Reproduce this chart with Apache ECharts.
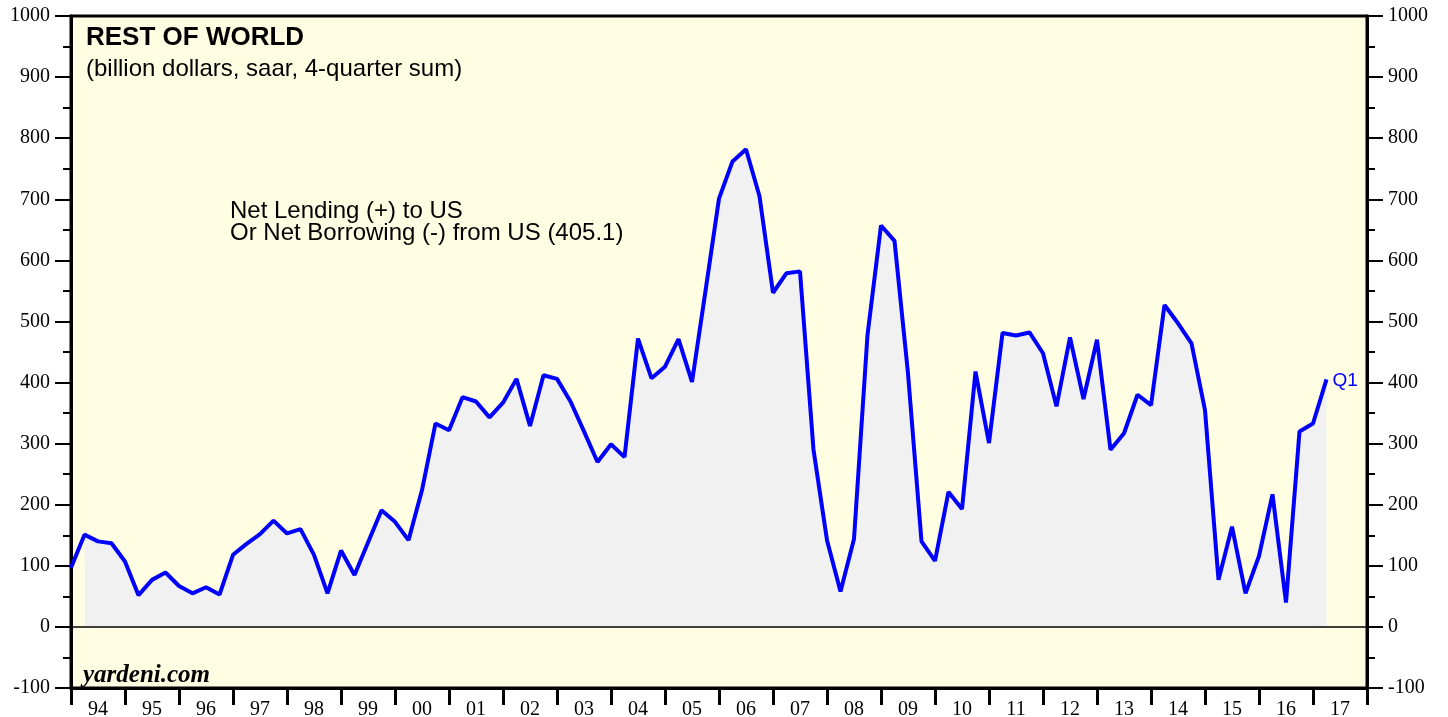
<!DOCTYPE html>
<html>
<head>
<meta charset="utf-8">
<title>Rest of World</title>
<script src="https://cdn.jsdelivr.net/npm/echarts@6/dist/echarts.min.js"></script>
<style>
  html, body { margin: 0; padding: 0; background: #ffffff; }
  #chart { width: 1448px; height: 717px; }
</style>
</head>
<body>
<div id="chart"></div>
<script>
// year labels on the bottom axis
const yearLabels = ['94', '95', '96', '97', '98', '99', '00', '01', '02', '03', '04', '05',
  '06', '07', '08', '09', '10', '11', '12', '13', '14', '15', '16', '17']

// quarterly values, 1993 Q4 .. 2017 Q1 (billion dollars)
const netLending = [
  97,
  151, 140, 137, 107,
  52, 77, 89, 67,
  55, 65, 53, 118,
  136, 152, 174, 153,
  160, 118, 55, 125,
  85, 138, 191, 172,
  142, 224, 333, 322,
  376, 369, 343, 367,
  406, 329, 412, 406,
  369, 320, 270, 299,
  278, 472, 407, 426,
  471, 401, 550, 701,
  762, 782, 705, 547,
  579, 582, 290, 142,
  58, 144, 478, 657,
  632, 415, 140, 108,
  221, 193, 418, 301,
  481, 477, 482, 448,
  361, 474, 373, 470,
  290, 317, 380, 363,
  527, 497, 464, 355,
  77, 164, 55, 116,
  217, 40, 320, 333,
  405.1,
]

// x in years since start of 1994, points sit at quarter end
let linePoints = netLending.map((v, i) => [i * 0.25, v])
let areaPoints = linePoints.slice(1) // shading starts at 94 Q1

const serif = '"Liberation Serif", "DejaVu Serif", serif'
const sans = '"Liberation Sans", Arial, sans-serif'

let yAxisBase = {
  type: 'value',
  min: -100,
  max: 1000,
  interval: 100,
  axisLine: { show: true, lineStyle: { color: '#000', width: 3 } },
  axisTick: { show: true, inside: false, length: 16, lineStyle: { color: '#000', width: 2 } },
  minorTick: { show: true, splitNumber: 2, length: 8, lineStyle: { color: '#000', width: 2 } },
  splitLine: { show: false },
  axisLabel: {
    fontFamily: serif,
    fontSize: 20,
    color: '#000',
    margin: 21,
    formatter: (v) => String(v), // no thousands separator
  },
}

let option = {
  animation: false,
  backgroundColor: '#ffffff',
  title: [
    {
      text: 'REST OF WORLD',
      left: 86,
      top: 25,
      padding: 0,
      textStyle: { fontFamily: sans, fontSize: 26, fontWeight: 'bold', color: '#000' },
    },
    {
      text: '(billion dollars, saar, 4-quarter sum)',
      left: 86,
      top: 57,
      padding: 0,
      textStyle: { fontFamily: sans, fontSize: 24, fontWeight: 'normal', color: '#000' },
    },
  ],
  graphic: [
    {
      type: 'text',
      left: 230,
      top: 199,
      style: {
        text: 'Net Lending (+) to US\nOr Net Borrowing (-) from US (405.1)',
        font: '24px ' + sans,
        lineHeight: 22,
        fill: '#000',
      },
    },
    {
      type: 'text',
      left: 83,
      top: 663,
      style: {
        text: 'yardeni.com',
        font: 'italic bold 25px ' + serif,
        fill: '#000',
      },
    },
  ],
  grid: {
    left: 71,
    right: 81,
    top: 16,
    bottom: 29,
    outerBoundsMode: 'none', // year labels run off the bottom edge like the original
    show: true,
    backgroundColor: '#fffee3',
    borderColor: '#000',
    borderWidth: 3,
  },
  xAxis: [
    {
      type: 'category',
      data: yearLabels,
      boundaryGap: true,
      position: 'bottom',
      axisLine: { show: true, onZero: false, lineStyle: { color: '#000', width: 3 } },
      axisTick: { show: true, inside: false, length: 17, interval: 0, lineStyle: { color: '#000', width: 3 } },
      axisLabel: { interval: 0, fontFamily: serif, fontSize: 20, color: '#000', margin: 12 },
      splitLine: { show: false },
    },
    {
      type: 'value',
      min: 0,
      max: 24,
      show: false,
    },
  ],
  yAxis: [
    Object.assign({}, yAxisBase, { position: 'left' }),
    Object.assign({}, yAxisBase, { position: 'right' }),
  ],
  series: [
    {
      name: 'shade',
      type: 'line',
      xAxisIndex: 1,
      yAxisIndex: 0,
      data: areaPoints,
      symbol: 'none',
      silent: true,
      lineStyle: { width: 0 },
      areaStyle: { color: '#f1f1f1', opacity: 1 },
      markLine: {
        silent: true,
        symbol: 'none',
        label: { show: false },
        lineStyle: { color: '#000', width: 1.5, type: 'solid' },
        data: [{ yAxis: 0 }],
      },
      z: 1,
    },
    {
      name: 'Net Lending',
      type: 'line',
      xAxisIndex: 1,
      yAxisIndex: 0,
      data: linePoints,
      symbol: 'none',
      lineStyle: { color: '#0000ff', width: 4 },
      endLabel: {
        show: true,
        formatter: 'Q1',
        color: '#0000ff',
        fontFamily: sans,
        fontSize: 19,
        distance: 6,
        offset: [0, 1],
      },
      z: 3,
    },
  ],
}

let myChart = echarts.init(document.getElementById('chart'), null, { renderer: 'canvas' })
myChart.setOption(option)
</script>
</body>
</html>
